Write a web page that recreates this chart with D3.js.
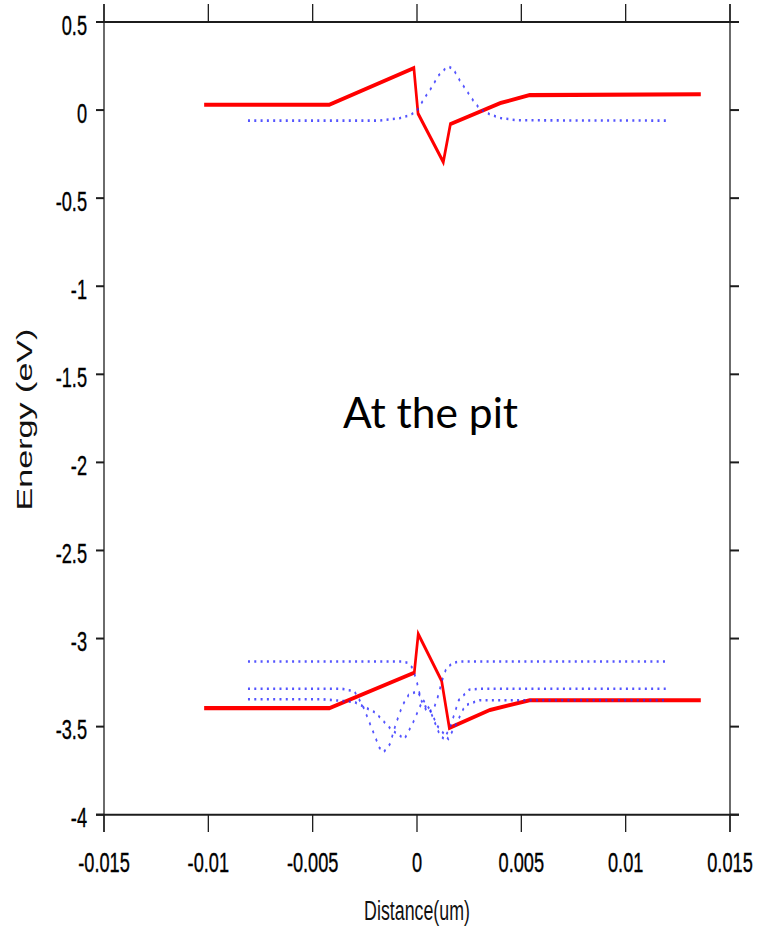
<!DOCTYPE html>
<html><head><meta charset="utf-8">
<script src="https://cdn.jsdelivr.net/npm/d3@7"></script>
<style>html,body{margin:0;padding:0;background:#fff;}svg{display:block;}</style>
</head><body>
<svg id="chart" width="768" height="942"></svg>
<script>
// ---- data ----
const xTickValues = [-0.015, -0.01, -0.005, 0, 0.005, 0.01, 0.015];
const xTickLabels = ["-0.015", "-0.01", "-0.005", "0", "0.005", "0.01", "0.015"];
const yTickValues = [0.5, 0, -0.5, -1, -1.5, -2, -2.5, -3, -3.5, -4];
const yTickLabels = ["0.5", "0", "-0.5", "-1", "-1.5", "-2", "-2.5", "-3", "-3.5", "-4"];

// conduction band edge (red)
const conductionBand = [[-0.0102,0.03],[-0.0042,0.03],[-0.00015,0.239],[0.00005,-0.02],[0.00126,-0.295],[0.0016,-0.08],[0.004,0.04],[0.0054,0.085],[0.0136,0.09]];
// valence band edge (red)
const valenceBand = [[-0.0102,-3.395],[-0.0042,-3.395],[-0.00013,-3.194],[0.00006,-2.974],[0.00118,-3.24],[0.00155,-3.507],[0.0035,-3.405],[0.0054,-3.35],[0.0136,-3.35]];
// electron wavefunction (blue dotted)
const electronState = [[-0.0081,-0.06],[-0.0018,-0.06],[-0.0008,-0.045],[-0.0003,-0.027],[0.0,-0.004],[0.00038,0.072],[0.0007,0.128],[0.00102,0.195],[0.00134,0.233],[0.00153,0.246],[0.00174,0.233],[0.00206,0.166],[0.00238,0.11],[0.0027,0.053],[0.00302,0.006],[0.0035,-0.025],[0.004,-0.045],[0.0048,-0.058],[0.012,-0.06]];
// hole wavefunctions (blue dotted)
const holeState1 = [[-0.0081,-3.13],[-0.0007,-3.13],[-0.0004,-3.14],[-0.0002,-3.17],[0.0,-3.25],[0.0002,-3.35],[0.0005,-3.42],[0.0008,-3.40],[0.001,-3.33],[0.0012,-3.24],[0.0014,-3.17],[0.0017,-3.14],[0.002,-3.13],[0.012,-3.13]];
const holeState2 = [[-0.0081,-3.285],[-0.0036,-3.285],[-0.003,-3.30],[-0.0026,-3.38],[-0.0022,-3.50],[-0.0018,-3.62],[-0.0016,-3.645],[-0.0013,-3.60],[-0.001,-3.48],[-0.0007,-3.38],[-0.0004,-3.32],[0.0,-3.30],[0.0006,-3.40],[0.0011,-3.55],[0.0013,-3.57],[0.0016,-3.50],[0.002,-3.35],[0.0025,-3.29],[0.003,-3.285],[0.012,-3.285]];
const holeState3 = [[-0.0081,-3.345],[-0.0045,-3.345],[-0.003,-3.36],[-0.002,-3.42],[-0.0012,-3.52],[-0.0006,-3.57],[-0.0002,-3.48],[0.0002,-3.37],[0.0006,-3.40],[0.001,-3.50],[0.0015,-3.57],[0.0019,-3.48],[0.0023,-3.38],[0.003,-3.35],[0.012,-3.35]];

const title = "At the pit";
const xTitle = "Distance(um)";
const yTitle = "Energy (eV)";

// ---- layout ----
const svg = d3.select("#chart");
const L = 104, R = 730, T = 22, B = 814.7;
const S = 1.5; // vertical stretch of the original picture
const x = d3.scaleLinear().domain([-0.015, 0.015]).range([L, R]);
const y = d3.scaleLinear().domain([0.5, -4]).range([T, B]);
const yIn = d3.scaleLinear().domain([0.5, -4]).range([T / S, B / S]);
const axisColor = "#1c1c1c";

// frame
const frame = svg.append("g");
frame.append("line").attr("x1", L).attr("x2", L).attr("y1", 4).attr("y2", 832).attr("stroke", axisColor).attr("stroke-width", 1.3);
frame.append("line").attr("x1", R).attr("x2", R).attr("y1", 4).attr("y2", 832).attr("stroke", axisColor).attr("stroke-width", 1.3);
frame.append("line").attr("x1", 96).attr("x2", 739).attr("y1", T).attr("y2", T).attr("stroke", axisColor).attr("stroke-width", 2);
frame.append("line").attr("x1", 96).attr("x2", 739).attr("y1", B).attr("y2", B).attr("stroke", axisColor).attr("stroke-width", 2);

// y ticks both sides
yTickValues.forEach((v, i) => {
  frame.append("line").attr("x1", L - 8).attr("x2", L).attr("y1", y(v)).attr("y2", y(v)).attr("stroke", axisColor).attr("stroke-width", 2);
  frame.append("line").attr("x1", R).attr("x2", R + 9).attr("y1", y(v)).attr("y2", y(v)).attr("stroke", axisColor).attr("stroke-width", 2);
  frame.append("text").attr("transform", `translate(87,${y(v) + 12.5}) scale(1,${S + 0.05})`)
    .attr("text-anchor", "end").attr("font-family", "Liberation Sans, Arial, sans-serif").attr("font-size", 18.2)
    .attr("fill", "#000").attr("stroke", "#000").attr("stroke-width", 0.25).text(yTickLabels[i]);
});
// x ticks bottom & top
xTickValues.forEach((v, i) => {
  frame.append("line").attr("x1", x(v)).attr("x2", x(v)).attr("y1", B).attr("y2", 832).attr("stroke", axisColor).attr("stroke-width", 1.3);
  frame.append("line").attr("x1", x(v)).attr("x2", x(v)).attr("y1", 4).attr("y2", T).attr("stroke", axisColor).attr("stroke-width", 1.3);
  frame.append("text").attr("transform", `translate(${x(v)},872) scale(1,${S + 0.05})`)
    .attr("text-anchor", "middle").attr("font-family", "Liberation Sans, Arial, sans-serif").attr("font-size", 18.2)
    .attr("fill", "#000").attr("stroke", "#000").attr("stroke-width", 0.25).text(xTickLabels[i]);
});

// axis titles
svg.append("text").attr("transform", `translate(417,920) scale(1,${S + 0.05})`)
  .attr("text-anchor", "middle").attr("font-family", "Liberation Sans, Arial, sans-serif").attr("font-size", 17.8)
  .attr("fill", "#111").text(xTitle);
svg.append("text").attr("transform", `translate(32,419.5) rotate(-90) scale(1.55,1)`)
  .attr("text-anchor", "middle").attr("font-family", "Liberation Sans, Arial, sans-serif").attr("font-size", 22)
  .attr("fill", "#111").text(yTitle);

// data (drawn in a vertically stretched group)
const g = svg.append("g").attr("transform", `scale(1,${S})`);
const line = d3.line().x(d => x(d[0])).y(d => yIn(d[1]));
[conductionBand, valenceBand].forEach(s => {
  g.append("path").datum(s).attr("d", line).attr("fill", "none")
    .attr("stroke", "#ff0000").attr("stroke-width", 2.7).attr("stroke-linejoin", "miter");
});
const dotted = { stroke: "#2a2aff", width: 1.7, dash: "2,4.3", opacity: 0.8 };
[electronState, holeState1, holeState2, holeState3].forEach(s => {
  g.append("path").datum(s).attr("d", line).attr("fill", "none")
    .attr("stroke", dotted.stroke).attr("stroke-width", dotted.width)
    .attr("stroke-dasharray", dotted.dash).attr("stroke-opacity", dotted.opacity);
});

// annotation
svg.append("text").attr("x", 430.5).attr("y", 428).attr("text-anchor", "middle")
  .attr("font-family", "Lato, 'Open Sans', sans-serif").attr("font-size", 42.5).attr("fill", "#000").text(title);
</script>
</body></html>
